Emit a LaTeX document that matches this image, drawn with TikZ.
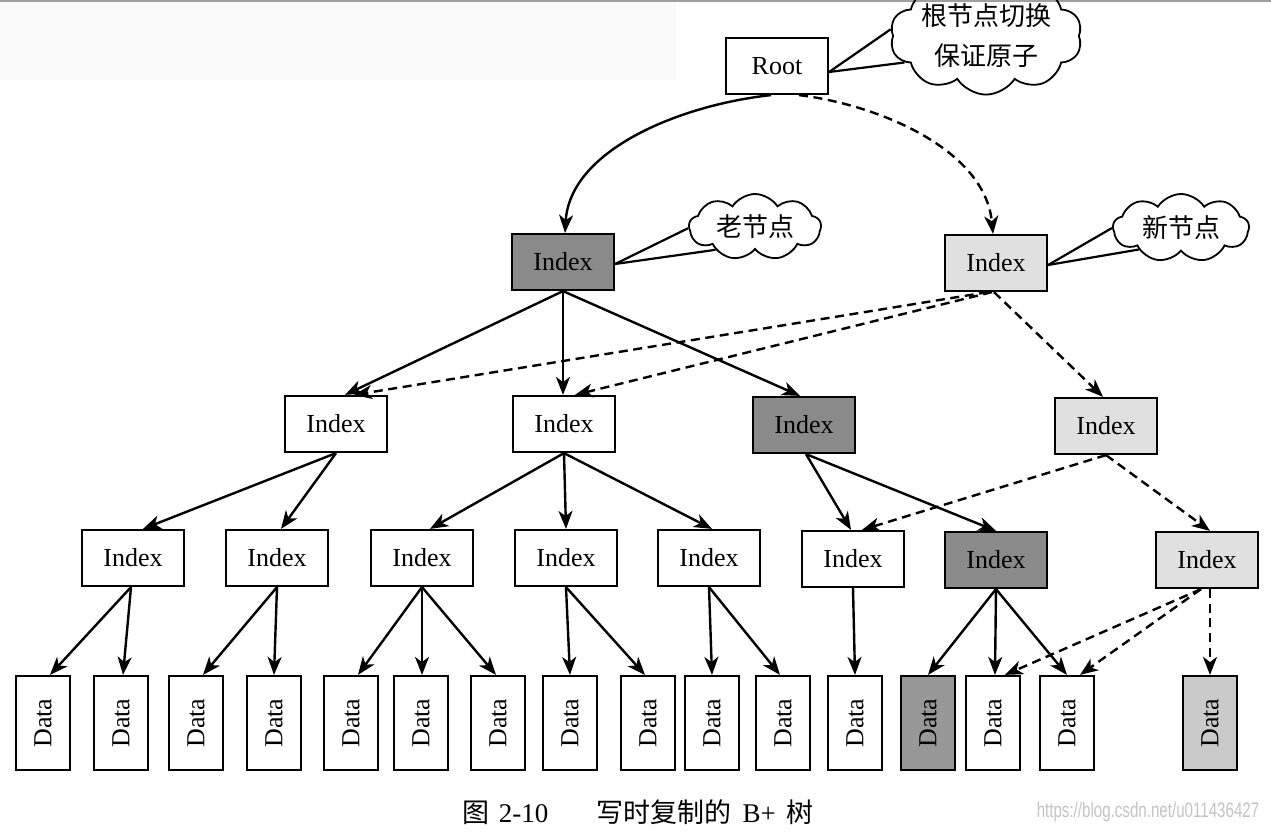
\documentclass[tikz,border=0pt]{standalone}
\usepackage{fontspec}
\usepackage{graphicx}
\setmainfont{Liberation Serif}
\newfontfamily\cjk{Noto Sans CJK SC}
\newfontfamily\wmfont{Liberation Sans}
\usetikzlibrary{arrows.meta,shapes.symbols,calc}
\definecolor{dkfill}{RGB}{138,138,138}
\definecolor{ltfill}{RGB}{224,224,224}
\definecolor{dkdata}{RGB}{152,152,152}
\definecolor{ltdata}{RGB}{202,202,202}
\definecolor{topbar}{RGB}{250,250,250}
\definecolor{wmgray}{RGB}{195,195,195}
\begin{document}
\begin{tikzpicture}[x=0.5pt,y=-0.5pt,
 ibox/.style={draw,line width=1.1pt,minimum width=51pt,minimum height=28pt,inner sep=0pt,font=\fontsize{13}{15}\selectfont},
 dbox/.style={draw,line width=1.1pt,minimum width=27pt,minimum height=47pt,inner sep=0pt,font=\fontsize{13}{15}\selectfont},
 dk/.style={fill=dkfill}, lt/.style={fill=ltfill},
 dkd/.style={fill=dkdata}, ltd/.style={fill=ltdata},
 cl/.style={cloud,cloud ignores aspect,draw,line width=0.9pt,cloud puffs=9,cloud puff arc=115,inner sep=0pt,font=\cjk\fontsize{13}{20}\selectfont,align=center},
 arr/.style={-{Stealth[length=9pt,width=7pt,inset=2.6pt]},line width=1.2pt},
 darr/.style={arr,dash pattern=on 4.5pt off 2.8pt},
 callout/.style={line width=1.1pt}]
\useasboundingbox (0,0) rectangle (1271,836);
\fill[topbar] (0,2) rectangle (676,80);
\draw[gray!75,line width=0.8pt] (0,1) -- (1271,1);

% level 0
\node[ibox] (root) at (777,66) {Root};
\node[cl,cloud puffs=10,minimum width=96pt,minimum height=54pt] (cl1) at (986,36) {根节点切换\\保证原子};
% level 1
\node[ibox,dk] (i1d) at (563,262) {Index};
\node[ibox,lt] (i1l) at (996,263) {Index};
\node[cl,minimum width=66pt,minimum height=33pt] (cl2) at (755,227) {老节点};
\node[cl,minimum width=68pt,minimum height=34pt] (cl3) at (1181,228) {新节点};
% level 2
\node[ibox] (a) at (336,424) {Index};
\node[ibox] (b) at (564,424) {Index};
\node[ibox,dk] (c) at (804,425) {Index};
\node[ibox,lt] (d) at (1106,426) {Index};
% level 3
\node[ibox] (x1) at (133,558) {Index};
\node[ibox] (x2) at (277,558) {Index};
\node[ibox] (x3) at (422,558) {Index};
\node[ibox] (x4) at (566,558) {Index};
\node[ibox] (x5) at (709,558) {Index};
\node[ibox] (x6) at (853,559) {Index};
\node[ibox,dk] (x7) at (996,560) {Index};
\node[ibox,lt] (x8) at (1207,560) {Index};
% level 4
\foreach \n/\x/\s in {1/43/,2/121/,3/196/,4/274/,5/351/,6/421/,7/498/,8/570/,9/648/,10/712/,11/783/,12/855/,13/928/dkd,14/993/,15/1067/,16/1210/ltd}{
  \node[dbox,\s] (d\n) at (\x,723) {\rotatebox{90}{Data}};
}

% callouts
\draw[callout] ($(root.east)+(0,6)$) -- (cl1.176);
\draw[callout] ($(root.east)+(0,6)$) -- (cl1.198);
\draw[callout] ($(i1d.east)+(0,2)$) -- (cl2.181);
\draw[callout] ($(i1d.east)+(0,2)$) -- (cl2.210);
\draw[callout] ($(i1l.east)+(0,2)$) -- (cl3.180);
\draw[callout] ($(i1l.east)+(0,2)$) -- (cl3.207);

% root edges
\draw[arr] ($(root.south)+(-6,0)$) .. controls (680,105) and (570,150) .. ($(i1d.north)+(2,0)$);
\draw[darr] ($(root.south)+(22,0)$) .. controls (880,105) and (985,150) .. ($(i1l.north)+(-3,0)$);

% level 1 -> 2
\draw[arr] (i1d.south) -- ($(a.north)+(9,0)$);
\draw[arr] (i1d.south) -- ($(b.north)+(-1,0)$);
\draw[arr] (i1d.south) -- ($(c.north)+(-4,0)$);
\draw[darr] ($(i1l.south)+(-8,0)$) -- ($(a.north)+(18,0)$);
\draw[darr] ($(i1l.south)+(-4,0)$) -- ($(b.north)+(11,0)$);
\draw[darr] ($(i1l.south)+(-2,0)$) -- ($(d.north)+(-3,0)$);

% level 2 -> 3
\draw[arr] (a.south) -- ($(x1.north)+(10,0)$);
\draw[arr] (a.south) -- ($(x2.north)+(4,0)$);
\draw[arr] (b.south) -- ($(x3.north)+(8,0)$);
\draw[arr] (b.south) -- ($(x4.north)+(0,0)$);
\draw[arr] (b.south) -- ($(x5.north)+(3,0)$);
\draw[arr] ($(c.south)+(2,0)$) -- ($(x6.north)+(-2,0)$);
\draw[arr] ($(c.south)+(2,0)$) -- ($(x7.north)+(0,0)$);
\draw[darr] (d.south) -- ($(x6.north)+(9,0)$);
\draw[darr] (d.south) -- ($(x8.north)+(3,0)$);

% level 3 -> 4
\draw[arr] ($(x1.south)+(-2,0)$) -- ($(d1.north)+(7,0)$);
\draw[arr] ($(x1.south)+(-2,0)$) -- ($(d2.north)+(2,0)$);
\draw[arr] (x2.south) -- ($(d3.north)+(7,0)$);
\draw[arr] (x2.south) -- ($(d4.north)+(0,0)$);
\draw[arr] (x3.south) -- ($(d5.north)+(7,0)$);
\draw[arr] (x3.south) -- ($(d6.north)+(1,0)$);
\draw[arr] (x3.south) -- ($(d7.north)+(-2,0)$);
\draw[arr] (x4.south) -- ($(d8.north)+(0,0)$);
\draw[arr] (x4.south) -- ($(d9.north)+(-3,0)$);
\draw[arr] (x5.south) -- ($(d10.north)+(0,0)$);
\draw[arr] (x5.south) -- ($(d11.north)+(-3,0)$);
\draw[arr] (x6.south) -- ($(d12.north)+(0,0)$);
\draw[arr] (x7.south) -- ($(d13.north)+(0,0)$);
\draw[arr] (x7.south) -- ($(d14.north)+(2,0)$);
\draw[arr] (x7.south) -- ($(d15.north)+(0,0)$);
\draw[darr] ($(x8.south)+(-6,0)$) -- ($(d14.north)+(12,0)$);
\draw[darr] ($(x8.south)+(-6,0)$) -- ($(d15.north)+(13,0)$);
\draw[darr] ($(x8.south)+(3,0)$) -- ($(d16.north)+(0,0)$);

% caption and watermark
\node[font=\fontsize{13.5}{16}\selectfont,inner sep=0pt] (cap) at (638,812) {{\cjk 图}\hspace{0.35em}2-10\hspace{1.8em}{\cjk 写时复制的}\hspace{0.4em}B+\hspace{0.4em}{\cjk 树}};
\node[font=\wmfont\fontsize{10.5}{12}\selectfont,text=wmgray,inner sep=0pt] (wm) at (1148,812) {\scalebox{0.72}[1]{https://blog.csdn.net/u011436427}};
\end{tikzpicture}
\end{document}
